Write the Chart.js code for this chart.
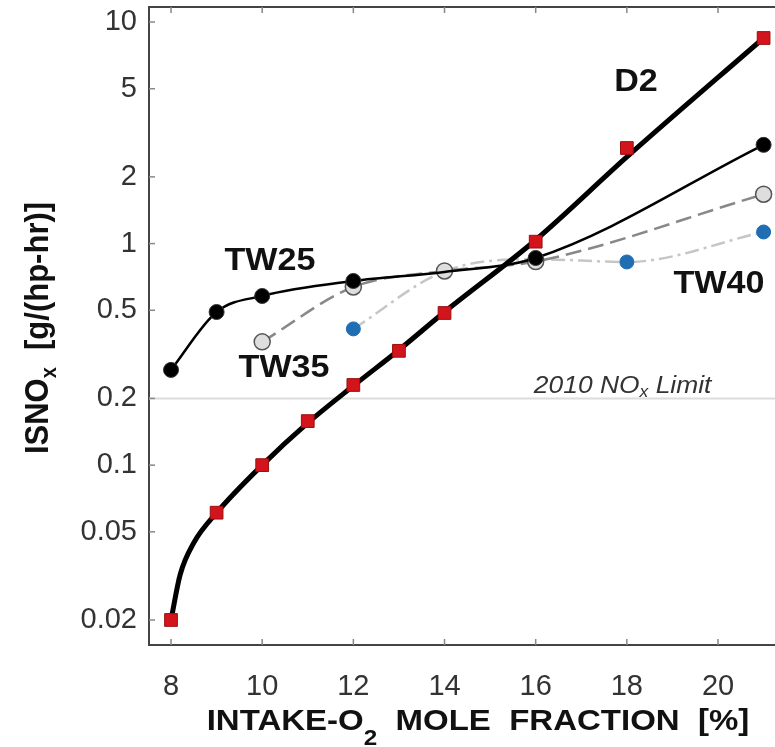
<!DOCTYPE html>
<html><head><meta charset="utf-8">
<script src="https://cdn.jsdelivr.net/npm/chart.js@4.4.0/dist/chart.umd.min.js"></script>
<style>html,body{margin:0;padding:0;background:#fff;}#wrap{width:775px;height:747px;position:relative}</style>
</head><body><div id="wrap"><canvas id="c" width="775" height="747"></canvas></div>
<script>
// ---- data ----
// D2 measured points (red squares)
const o2_D2 = [8, 9, 10, 11, 12, 13, 14, 16, 18, 21];
const isnox_D2 = [0.02, 0.061, 0.10, 0.158, 0.23, 0.328, 0.486, 1.02, 2.70, 8.47];
// D2 fitted curve
const o2_D2fit = [8, 8.2, 8.5, 9, 10, 11, 12, 13, 14, 16, 18, 21];
const isnox_D2fit = [0.02, 0.032, 0.0446, 0.0609, 0.100, 0.155, 0.228, 0.331, 0.491, 1.038, 2.46, 8.47];
const o2_TW25 = [8, 9, 10, 12, 14, 16, 21];
const isnox_TW25 = [0.269, 0.491, 0.58, 0.678, 0.745, 0.861, 2.79];
const o2_TW35 = [10, 12, 14, 16, 21];
const isnox_TW35 = [0.36, 0.637, 0.752, 0.83, 1.67];
const o2_TW40 = [12, 14, 16, 18, 21];
const isnox_TW40 = [0.412, 0.75, 0.85, 0.826, 1.128];
const xTicks = [8, 10, 12, 14, 16, 18, 20];
const yTicks = [0.02, 0.05, 0.1, 0.2, 0.5, 1, 2, 5, 10];
const noxLimit = 0.2;
const seriesNames = ['D2', 'TW25', 'TW35', 'TW40'];

const FAM = '"Liberation Sans", Arial, Helvetica, sans-serif';
const pts = (xs, ys) => xs.map((x, i) => ({x: x, y: ys[i]}));

function drawRich(ctx, parts, cx, cy, o) {
  ctx.save();
  ctx.translate(cx, cy);
  ctx.scale(o.sx || 1, 1);
  if (o.rot) ctx.rotate(o.rot);
  const st = o.style || '';
  const fontFor = s => `${st} ${s ? o.subSize : o.size}px ${FAM}`;
  let total = 0;
  const w = parts.map(([t, s]) => { ctx.font = fontFor(s); const m = ctx.measureText(t).width; total += m; return m; });
  let xx = o.align === 'left' ? 0 : -total / 2;
  ctx.textBaseline = 'alphabetic';
  ctx.textAlign = 'left';
  ctx.fillStyle = o.color || '#111';
  parts.forEach(([t, s], i) => { ctx.font = fontFor(s); ctx.fillText(t, xx, (o.dy || 0) + (s ? o.subDy : 0)); xx += w[i]; });
  ctx.restore();
}

const deco = {
  id: 'deco',
  beforeDatasetsDraw(chart) {
    const {ctx, chartArea: a, scales: {x, y}} = chart;
    ctx.save();
    const py = y.getPixelForValue(noxLimit);
    ctx.strokeStyle = '#dcdcdc'; ctx.lineWidth = 2;
    ctx.beginPath(); ctx.moveTo(a.left, py); ctx.lineTo(a.right, py); ctx.stroke();
    ctx.strokeStyle = '#444'; ctx.lineWidth = 2;
    ctx.beginPath(); ctx.moveTo(a.left - 1, a.top); ctx.lineTo(a.right, a.top); ctx.stroke();
    ctx.strokeStyle = '#888'; ctx.lineWidth = 1.5;
    y.ticks.forEach(t => { const p = y.getPixelForValue(t.value); ctx.beginPath(); ctx.moveTo(a.left, p); ctx.lineTo(a.left + 6, p); ctx.stroke(); });
    x.ticks.forEach(t => { const p = x.getPixelForValue(t.value); ctx.beginPath(); ctx.moveTo(p, a.bottom); ctx.lineTo(p, a.bottom - 6); ctx.moveTo(p, a.top); ctx.lineTo(p, a.top + 6); ctx.stroke(); });
    drawRich(ctx, [['2010 NO', false], ['x', true], [' Limit', false]], x.getPixelForValue(15.96), py - 5,
      {size: 24, subSize: 16, subDy: 4, style: 'italic', sx: 1.1, align: 'left', color: '#333'});
    ctx.restore();
  },
  afterDraw(chart) {
    const {ctx, chartArea: a, scales: {x, y}} = chart;
    const lab = {size: 31, style: 'bold', sx: 1.1, color: '#111', dy: 11};
    drawRich(ctx, [[seriesNames[0], false]], x.getPixelForValue(18.2), y.getPixelForValue(5.47), lab);
    drawRich(ctx, [[seriesNames[1], false]], x.getPixelForValue(10.17), y.getPixelForValue(0.852), lab);
    drawRich(ctx, [[seriesNames[2], false]], x.getPixelForValue(10.48), y.getPixelForValue(0.28), lab);
    drawRich(ctx, [[seriesNames[3], false]], x.getPixelForValue(20.02), y.getPixelForValue(0.671), lab);
    drawRich(ctx, [['INTAKE-O', false], ['2', true], ['  MOLE  FRACTION  [%]', false]], (a.left + a.right) / 2 + 16, 730,
      {size: 30, subSize: 22, subDy: 15, style: 'bold', sx: 1.1, color: '#111'});
    drawRich(ctx, [['ISNO', false], ['x', true], ['  [g/(hp-hr)]', false]], 36, (a.top + a.bottom) / 2 + 2,
      {size: 31, subSize: 20, subDy: 7, style: 'bold', sx: 1.1, rot: -Math.PI / 2, dy: 11, color: '#111'});
  }
};

new Chart(document.getElementById('c'), {
  type: 'line',
  data: {
    datasets: [
      {label: 'D2', data: pts(o2_D2, isnox_D2), order: 0, showLine: false, pointStyle: 'rect', pointRadius: 9,
       pointBackgroundColor: '#d3141c', pointBorderColor: '#9a1010', pointBorderWidth: 1},
      {label: 'D2 fit', data: pts(o2_D2fit, isnox_D2fit), order: 1, borderColor: '#000', borderWidth: 5,
       cubicInterpolationMode: 'monotone', pointRadius: 0},
      {label: 'TW25', data: pts(o2_TW25, isnox_TW25), order: 2, borderColor: '#000', borderWidth: 2.5,
       cubicInterpolationMode: 'monotone', pointStyle: 'circle',
       pointRadius: c => (c.raw && c.raw.x === 14 ? 0 : 7.5),
       pointBackgroundColor: '#000', pointBorderColor: '#333', pointBorderWidth: 1},
      {label: 'TW35', data: pts(o2_TW35, isnox_TW35), order: 3, borderColor: '#888', borderWidth: 2.5,
       borderDash: [16, 7], cubicInterpolationMode: 'monotone', pointStyle: 'circle', pointRadius: 8,
       pointBackgroundColor: '#dedede', pointBorderColor: '#555', pointBorderWidth: 1.5},
      {label: 'TW40', data: pts(o2_TW40, isnox_TW40), order: 4, borderColor: '#c6c6c6', borderWidth: 2.5,
       borderDash: [14, 5, 3, 5], cubicInterpolationMode: 'monotone', pointStyle: 'circle', pointRadius: 7,
       pointBackgroundColor: '#1f6db3', pointBorderColor: '#1f6db3', pointBorderWidth: 1}
    ]
  },
  options: {
    responsive: false, animation: false, devicePixelRatio: 1,
    layout: {padding: {top: 7, left: 0, right: 0, bottom: 0}, autoPadding: false},
    plugins: {legend: {display: false}, tooltip: {enabled: false}},
    scales: {
      x: {type: 'linear', min: 7.517, max: 21.25,
        afterBuildTicks: s => { s.ticks = xTicks.map(v => ({value: v})); },
        afterFit: s => { s.height = 102; s.paddingLeft = 0; s.paddingRight = 0; s.paddingTop = 0; s.paddingBottom = 0; },
        grid: {display: false, drawTicks: false},
        border: {display: true, color: '#444', width: 2},
        ticks: {padding: 25, color: '#333', font: {family: FAM, size: 29}, callback: v => String(v)}},
      y: {type: 'logarithmic', min: 0.01542, max: 11.69,
        afterBuildTicks: s => { s.ticks = yTicks.map(v => ({value: v})); },
        afterFit: s => { s.width = 149; s.paddingLeft = 0; s.paddingRight = 0; s.paddingTop = 0; s.paddingBottom = 0; },
        grid: {display: false, drawTicks: false},
        border: {display: true, color: '#444', width: 2},
        ticks: {padding: 12, color: '#333', font: {family: FAM, size: 29}, callback: v => String(v)}}
    }
  },
  plugins: [deco]
});
</script></body></html>
